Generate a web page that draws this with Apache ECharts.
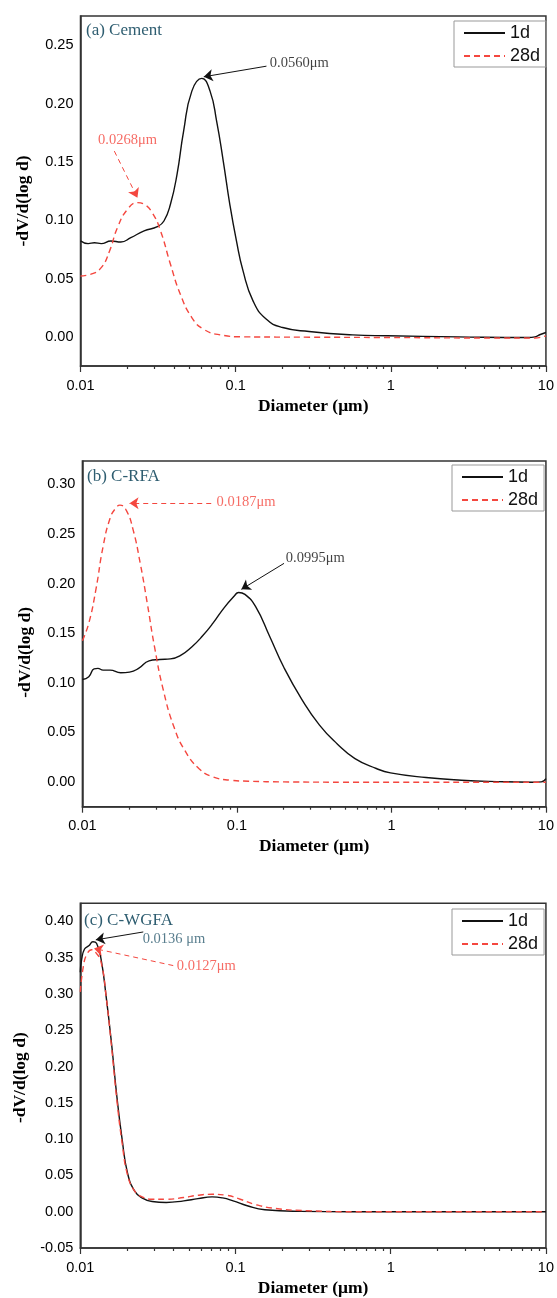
<!DOCTYPE html>
<html>
<head>
<meta charset="utf-8">
<script src="https://cdn.jsdelivr.net/npm/echarts@6/dist/echarts.min.js"></script>
</head>
<body style="margin:0;background:#fff">
<div id="main" style="width:557px;height:1298px"></div>
<script>
// pore size distribution, x = diameter (um), y = -dV/d(log d)
var cement1dX = [0.0100, 0.0112, 0.0123, 0.0136, 0.0157, 0.0182, 0.0211, 0.0257, 0.0313, 0.0345, 0.0380, 0.0419, 0.0462, 0.0522, 0.0605, 0.0684, 0.0754, 0.0832, 0.0917, 0.1012, 0.1116, 0.1294, 0.1572, 0.2010, 0.2972, 0.5666, 0.954, 2.705, 7.665, 8.51, 9.2, 10];
var cement1dY = [0.0822, 0.0799, 0.0807, 0.0799, 0.0822, 0.0813, 0.0850, 0.0908, 0.0944, 0.0993, 0.1136, 0.1393, 0.1764, 0.2106, 0.2215, 0.2106, 0.1849, 0.1507, 0.1136, 0.0822, 0.0565, 0.0308, 0.0152, 0.0080, 0.0046, 0.0017, 0.0009, 0.0000, -0.0006, 0.0000, 0.0020, 0.0037];
var cement28dX = [0.0100, 0.0117, 0.0136, 0.0154, 0.0173, 0.0201, 0.0233, 0.0257, 0.0290, 0.0328, 0.0380, 0.0440, 0.0522, 0.0620, 0.0793, 0.1117, 0.3, 1, 4.55, 8.5, 10];
var cement28dY = [0.0522, 0.0537, 0.0593, 0.0736, 0.0936, 0.1093, 0.1150, 0.1136, 0.1064, 0.0908, 0.0622, 0.0365, 0.0165, 0.0066, 0.0017, 0.0000, -0.0003, -0.0006, -0.0010, -0.0010, 0.0009];

var rfa1dX = [0.0100, 0.0110, 0.0119, 0.0126, 0.0136, 0.0151, 0.0177, 0.0202, 0.0231, 0.0270, 0.0317, 0.0371, 0.0435, 0.0510, 0.0598, 0.0700, 0.0821, 0.0962, 0.1025, 0.1127, 0.1322, 0.1633, 0.2015, 0.2629, 0.3424, 0.4461, 0.581, 0.798, 0.986, 1.674, 2.84, 4.82, 8.18, 9.33, 10];
var rfa1dY = [0.1033, 0.1060, 0.1140, 0.1144, 0.1127, 0.1127, 0.1100, 0.1107, 0.1144, 0.1220, 0.1234, 0.1240, 0.1278, 0.1360, 0.1470, 0.1600, 0.1750, 0.1875, 0.1910, 0.1890, 0.1766, 0.1463, 0.1153, 0.0833, 0.0573, 0.0383, 0.0235, 0.0135, 0.0091, 0.0044, 0.0017, 0.0003, -0.0003, 0.0000, 0.0034];
var rfa28dX = [0.0100, 0.0110, 0.0122, 0.0136, 0.0151, 0.0164, 0.0175, 0.0192, 0.0213, 0.0237, 0.0263, 0.0293, 0.0334, 0.0391, 0.0459, 0.0567, 0.0700, 0.0913, 0.1189, 0.2015, 0.581, 10];
var rfa28dY = [0.1423, 0.1600, 0.1930, 0.2370, 0.2657, 0.2758, 0.2790, 0.2740, 0.2540, 0.2200, 0.1800, 0.1360, 0.0925, 0.0555, 0.0320, 0.0135, 0.0050, 0.0017, 0.0007, 0.0000, -0.0003, -0.0003];

var wgfa1dX = [0.0100, 0.01021, 0.01065, 0.01134, 0.01207, 0.01272, 0.01361, 0.01472, 0.01592, 0.01722, 0.01862, 0.02014, 0.02236, 0.02482, 0.02904, 0.03578, 0.04646, 0.05725, 0.07057, 0.08254, 0.0965, 0.1190, 0.1545, 0.2606, 0.5706, 10];
var wgfa1dY = [0.330, 0.348, 0.362, 0.3664, 0.372, 0.370, 0.348, 0.294, 0.2304, 0.158, 0.0989, 0.0535, 0.0286, 0.0195, 0.0140, 0.0127, 0.0150, 0.0180, 0.0204, 0.0190, 0.0150, 0.0082, 0.0027, 0.0005, 0, 0];
var wgfa28dX = [0.0100, 0.01048, 0.01104, 0.01182, 0.01259, 0.01361, 0.01472, 0.01592, 0.01722, 0.01862, 0.02014, 0.02236, 0.02482, 0.02904, 0.03578, 0.04646, 0.05725, 0.07057, 0.0870, 0.1072, 0.1321, 0.1807, 0.2892, 0.5706, 10];
var wgfa28dY = [0.303, 0.339, 0.355, 0.361, 0.357, 0.344, 0.294, 0.226, 0.153, 0.094, 0.051, 0.0286, 0.0209, 0.0172, 0.0172, 0.0195, 0.0227, 0.0240, 0.0227, 0.0172, 0.0104, 0.0045, 0.0014, 0, 0];

var yTicksA = [0, 0.05, 0.10, 0.15, 0.20, 0.25];
var yTicksB = [0, 0.05, 0.10, 0.15, 0.20, 0.25, 0.30];
var yTicksC = [-0.05, 0, 0.05, 0.10, 0.15, 0.20, 0.25, 0.30, 0.35, 0.40];
var xTicks = [0.01, 0.1, 1, 10];

// minor ticks 2..9 of each decade, in log10 space
var minorTicks = [];
[-2, -1, 0].forEach(function (d) {
    for (var k = 2; k <= 9; k++) minorTicks.push(d + Math.log10(k));
});

var BLACK = '#111';
var RED = '#f4473f';
var TEAL = '#2e5d70';

var panels = [
    { title: '(a) Cement', grid: { left: 80.5, top: 16, width: 470, height: 350 },
      y: [-0.025, 0.275], ticks: yTicksA, namePad: 20, titlePos: [86, 22],
      legendPos: [454, 21],
      s1: [cement1dX, cement1dY], s28: [cement28dX, cement28dY],
      notes: [
        { text: '0.0560μm', at: [0.166, 0.2349], color: BLACK, pos: 'right' },
        { text: '0.0268μm', at: [0.0201, 0.1687], color: RED, pos: 'inside' }
      ],
      arrow1: [[0.158, 0.232], [0.0623, 0.2229]],
      arrow28: [[0.01652, 0.1592], [0.02328, 0.1193]] },
    { title: '(b) C-RFA', grid: { left: 82.4, top: 461, width: 464, height: 345.7 },
      y: [-0.025, 0.3235], ticks: yTicksB, namePad: 37, titlePos: [87, 468],
      legendPos: [452, 465],
      s1: [rfa1dX, rfa1dY], s28: [rfa28dX, rfa28dY],
      notes: [
        { text: '0.0995μm', at: [0.2072, 0.2254], color: BLACK, pos: 'right' },
        { text: '0.0187μm', at: [0.0739, 0.2815], color: RED, pos: 'right' }
      ],
      arrow1: [[0.2018, 0.2203], [0.1069, 0.1941]],
      arrow28: [[0.0682, 0.2809], [0.0202, 0.2809]] },
    { title: '(c) C-WGFA', grid: { left: 80.3, top: 903.3, width: 469.6, height: 350 },
      y: [-0.05, 0.425], ticks: yTicksC, namePad: 4, titlePos: [84, 912],
      legendPos: [452, 909],
      s1: [wgfa1dX, wgfa1dY], s28: [wgfa28dX, wgfa28dY],
      notes: [
        { text: '0.0136 μm', at: [0.02521, 0.3751], color: TEAL, pos: 'right' },
        { text: '0.0127μm', at: [0.04183, 0.3383], color: RED, pos: 'right' }
      ],
      arrow1: [[0.02546, 0.3855], [0.01259, 0.3746]],
      arrow28: [[0.0397, 0.3392], [0.01226, 0.3628]] }
];

function zip(xs, ys) {
    return xs.map(function (x, i) { return [x, ys[i]]; });
}

function arrow(pts, color, dashed) {
    return {
        silent: true,
        symbol: ['none', 'arrow'],
        symbolSize: 9,
        label: { show: false },
        lineStyle: { color: color, width: 1, type: dashed ? [5, 4] : 'solid' },
        emphasis: { disabled: true },
        data: [[{ coord: pts[0] }, { coord: pts[1] }]]
    };
}

var sans = 'Liberation Sans, Arial, sans-serif';
var serif = 'Liberation Serif, Times New Roman, serif';

var option = {
    animation: false,
    backgroundColor: '#fff',
    title: [], legend: [], grid: [], xAxis: [], yAxis: [], series: []
};

panels.forEach(function (p, i) {
    option.grid.push(Object.assign({ show: true, borderColor: '#333', borderWidth: 1.5 }, p.grid));
    option.title.push({
        text: p.title, left: p.titlePos[0], top: p.titlePos[1], padding: 0,
        textStyle: { fontFamily: serif, fontSize: 17, fontWeight: 'normal', color: TEAL }
    });
    option.legend.push({
        data: ['1d', '28d'], orient: 'vertical',
        left: p.legendPos[0], top: p.legendPos[1],
        padding: [3, 6, 2, 9], itemGap: 5, itemWidth: 41, itemHeight: 14,
        borderColor: '#999', borderWidth: 1,
        itemStyle: { opacity: 0 },
        textStyle: { fontFamily: sans, fontSize: 18, color: '#111' }
    });
    option.xAxis.push({
        type: 'log', logBase: 10, gridIndex: i, min: 0.01, max: 10, position: 'bottom',
        name: 'Diameter (μm)', nameLocation: 'middle', nameGap: 31,
        nameTextStyle: { fontFamily: serif, fontWeight: 'bold', fontSize: 17.5, color: '#000' },
        axisLine: { onZero: false, lineStyle: { color: '#333', width: 1.5 } },
        axisTick: { show: true, length: 6, lineStyle: { color: '#333', width: 1.2 } },
        axisLabel: {
            fontFamily: sans, fontSize: 14.5, color: '#000', margin: 12,
            customValues: xTicks,
            formatter: function (v) { return String(parseFloat((+v).toPrecision(3))); }
        },
        splitLine: { show: false }
    });
    option.xAxis.push({
        type: 'value', gridIndex: i, min: -2, max: 1, position: 'bottom',
        axisLine: { show: false, onZero: false },
        axisTick: { show: true, length: 3, customValues: minorTicks, lineStyle: { color: '#333', width: 1.2 } },
        axisLabel: { show: false },
        splitLine: { show: false }
    });
    option.yAxis.push({
        type: 'value', gridIndex: i, min: p.y[0], max: p.y[1],
        name: '-dV/d(log d)', nameLocation: 'middle', nameGap: 48,
        nameTextStyle: { fontFamily: serif, fontWeight: 'bold', fontSize: 17.5, color: '#000', padding: [0, p.namePad, 0, 0] },
        axisLine: { show: true, onZero: false, lineStyle: { color: '#333', width: 1.5 } },
        axisTick: { show: false },
        axisLabel: {
            fontFamily: sans, fontSize: 14.5, color: '#000', margin: 7,
            customValues: p.ticks,
            formatter: function (v) { return v.toFixed(2); }
        },
        splitLine: { show: false }
    });
    option.series.push({
        name: '1d', type: 'line', xAxisIndex: 2 * i, yAxisIndex: i,
        data: zip(p.s1[0], p.s1[1]), smooth: 0.5, symbol: 'none',
        lineStyle: { color: BLACK, width: 1.4 }, itemStyle: { color: BLACK },
        markLine: arrow(p.arrow1, BLACK, false)
    });
    option.series.push({
        name: '28d', type: 'line', xAxisIndex: 2 * i, yAxisIndex: i,
        data: zip(p.s28[0], p.s28[1]), smooth: 0.5, symbol: 'none',
        lineStyle: { color: RED, width: 1.4, type: [6, 4] }, itemStyle: { color: RED },
        markLine: arrow(p.arrow28, RED, true)
    });
    p.notes.forEach(function (n) {
        option.series.push({
            name: 'note', type: 'scatter', xAxisIndex: 2 * i, yAxisIndex: i,
            silent: true, symbolSize: 0,
            data: [{ value: n.at, name: n.text }],
            label: {
                show: true, position: n.pos, distance: 0, formatter: '{b}',
                fontFamily: serif, fontSize: 14.5, color: n.color
            }
        });
    });
});

var chart = echarts.init(document.getElementById('main'), null, { renderer: 'canvas' });
chart.setOption(option);
</script>
</body>
</html>
